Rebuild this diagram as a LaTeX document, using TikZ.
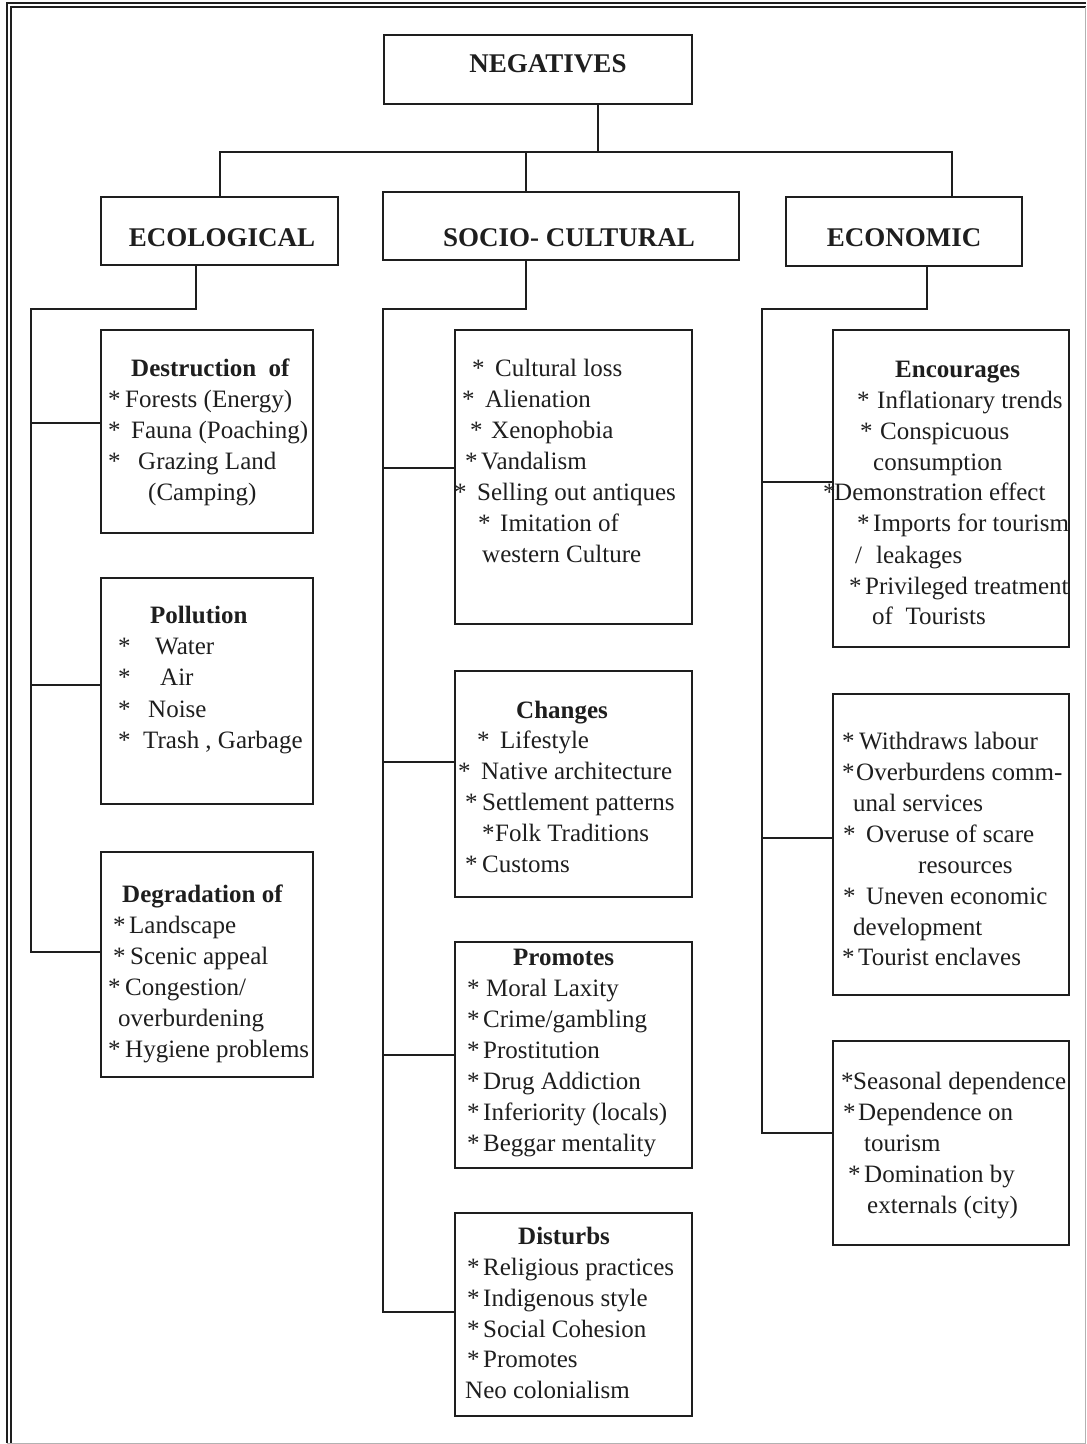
\documentclass[tikz,border=0pt]{standalone}
\usepackage{fontspec}
\setmainfont{Liberation Serif}
\definecolor{ink}{HTML}{1E1E1E}
\newcommand\mktext[4]{\node[txt] (#1) at (#2,#3) {#4};}
\newcommand\mkstar[5]{\node[txt] (#1) at (#2,#4) {\makebox[\dimexpr#3pt-#2pt\relax][l]{*}#5};}
\newcommand\mkbox[5]{\node[box, minimum width={(#4-#2)*1pt}, minimum height={(#5-#3)*1pt}] (#1) at (#2,#3) {};}
\begin{document}
\begin{tikzpicture}[x=1pt,y=-1pt,
  ln/.style={draw=ink, line width=1.5pt},
  box/.style={draw=ink, line width=1.5pt, anchor=north west, inner sep=0pt, outer sep=0pt},
  txt/.style={anchor=base west, inner sep=0pt, text=ink, font=\fontsize{25}{30}\selectfont},
  head/.style={anchor=base, inner sep=0pt, text=ink, font=\fontsize{27}{32}\selectfont\bfseries},
  sub/.style={txt, font=\fontsize{25}{30}\selectfont\bfseries}]
\useasboundingbox (0,0) rectangle (1087,1444);
% frame
\draw[ink, line width=1.3pt] (7,1443) -- (7,3) -- (1086,3);
\draw[ink, line width=1.3pt] (11,1443) -- (11,7) -- (1086,7);
\draw[gray!60, line width=1pt] (1085,7) -- (1085,1443) -- (7,1443);

% header boxes
\mkbox{neg}{384}{35}{692}{104}
\mkbox{eco}{101}{197}{338}{265}
\mkbox{soc}{383}{192}{739}{260}
\mkbox{econ}{786}{197}{1022}{266}
\node[head] (negT) at (548,72) {NEGATIVES};
\node[head] (ecoT) at (222,246) {ECOLOGICAL};
\node[head] (socT) at (569,246) {SOCIO- CULTURAL};
\node[head] (econT) at (904,246) {ECONOMIC};

% content boxes
\mkbox{des}{101}{330}{313}{533}
\mkbox{pol}{101}{578}{313}{804}
\mkbox{deg}{101}{852}{313}{1077}
\mkbox{cul}{455}{330}{692}{624}
\mkbox{chg}{455}{671}{692}{897}
\mkbox{pro}{455}{942}{692}{1168}
\mkbox{dis}{455}{1213}{692}{1416}
\mkbox{enc}{833}{330}{1069}{647}
\mkbox{wdr}{833}{694}{1069}{995}
\mkbox{sea}{833}{1041}{1069}{1245}

% top connectors
\coordinate (busL) at (220,152);
\coordinate (busR) at (952,152);
\coordinate (nx) at (598,0);
\coordinate (sx) at (526,0);
\draw[ln] (neg.south -| nx) -- (nx |- busL);
\draw[ln] (eco.north -| busL) -- (busL) -- (busR) -- (econ.north -| busR);
\draw[ln] (sx |- busL) -- (soc.north -| sx);

% ecological trunk
\coordinate (ex) at (196,0);
\coordinate (et) at (31,309);
\coordinate (eb1) at (0,423);
\coordinate (eb2) at (0,685);
\coordinate (eb3) at (0,952);
\draw[ln] (eco.south -| ex) |- (et) |- (deg.west |- eb3);
\draw[ln] (et |- eb1) -- (des.west |- eb1);
\draw[ln] (et |- eb2) -- (pol.west |- eb2);

% socio trunk
\coordinate (st) at (383,309);
\coordinate (sb1) at (0,468);
\coordinate (sb2) at (0,762);
\coordinate (sb3) at (0,1055);
\coordinate (sb4) at (0,1312);
\draw[ln] (soc.south -| sx) |- (st) |- (dis.west |- sb4);
\draw[ln] (st |- sb1) -- (cul.west |- sb1);
\draw[ln] (st |- sb2) -- (chg.west |- sb2);
\draw[ln] (st |- sb3) -- (pro.west |- sb3);

% economic trunk
\coordinate (cx) at (927,0);
\coordinate (ct) at (762,309);
\coordinate (cb1) at (0,482);
\coordinate (cb2) at (0,838);
\coordinate (cb3) at (0,1133);
\draw[ln] (econ.south -| cx) |- (ct) |- (sea.west |- cb3);
\draw[ln] (ct |- cb1) -- (enc.west |- cb1);
\draw[ln] (ct |- cb2) -- (wdr.west |- cb2);

% Destruction
\node[sub] (d0) at (131,376) {Destruction\ \ of};
\mkstar{d1}{108}{125}{407}{Forests (Energy)}
\mkstar{d2}{108}{131}{438}{Fauna (Poaching)}
\mkstar{d3}{108}{138}{469}{Grazing Land}
\mktext{d4}{148}{500}{(Camping)}

% Pollution
\node[sub] (p0) at (150,623) {Pollution};
\mkstar{p1}{118}{155}{654}{Water}
\mkstar{p2}{118}{160}{685}{Air}
\mkstar{p3}{118}{148}{717}{Noise}
\mkstar{p4}{118}{143}{748}{Trash , Garbage}

% Degradation
\node[sub] (g0) at (122,902) {Degradation of};
\mkstar{g1}{113}{129}{933}{Landscape}
\mkstar{g2}{113}{130}{964}{Scenic appeal}
\mkstar{g3}{108}{125}{995}{Congestion/}
\mktext{g4}{118}{1026}{overburdening}
\mkstar{g5}{108}{125}{1057}{Hygiene problems}

% Cultural
\mkstar{c1}{472}{495}{376}{Cultural loss}
\mkstar{c2}{462}{485}{407}{Alienation}
\mkstar{c3}{470}{491}{438}{Xenophobia}
\mkstar{c4}{465}{481}{469}{Vandalism}
\mkstar{c5}{454}{477}{500}{Selling out antiques}
\mkstar{c6}{478}{500}{531}{Imitation of}
\mktext{c7}{482}{562}{western Culture}

% Changes
\node[sub] (h0) at (516,718) {Changes};
\mkstar{h1}{477}{500}{748}{Lifestyle}
\mkstar{h2}{458}{481}{779}{Native architecture}
\mkstar{h3}{465}{482}{810}{Settlement patterns}
\mkstar{h4}{482}{495}{841}{Folk Traditions}
\mkstar{h5}{465}{482}{872}{Customs}

% Promotes
\node[sub] (m0) at (513,965) {Promotes};
\mkstar{m1}{467}{486}{996}{Moral Laxity}
\mkstar{m2}{467}{483}{1027}{Crime/gambling}
\mkstar{m3}{467}{483}{1058}{Prostitution}
\mkstar{m4}{467}{483}{1089}{Drug Addiction}
\mkstar{m5}{467}{483}{1120}{Inferiority (locals)}
\mkstar{m6}{467}{483}{1151}{Beggar mentality}

% Disturbs
\node[sub] (s0) at (518,1244) {Disturbs};
\mkstar{s1}{467}{483}{1275}{Religious practices}
\mkstar{s2}{467}{483}{1306}{Indigenous style}
\mkstar{s3}{467}{483}{1337}{Social Cohesion}
\mkstar{s4}{467}{483}{1367}{Promotes}
\mktext{s5}{465}{1398}{Neo colonialism}

% Encourages
\node[sub] (n0) at (895,377) {Encourages};
\mkstar{n1}{857}{877}{408}{Inflationary trends}
\mkstar{n2}{860}{880}{439}{Conspicuous}
\mktext{n3}{873}{470}{consumption}
\mkstar{n4}{823}{834}{500}{Demonstration effect}
\mkstar{n5}{857}{873}{531}{Imports for tourism}
\mktext{n6}{855}{563}{/\hspace{14pt}leakages}
\mkstar{n7}{849}{865}{594}{Privileged treatment}
\mktext{n8}{872}{624}{of\ \ Tourists}

% Withdraws
\mkstar{w1}{842}{859}{749}{Withdraws labour}
\mkstar{w2}{842}{856}{780}{Overburdens comm-}
\mktext{w3}{853}{811}{unal services}
\mkstar{w4}{843}{866}{842}{Overuse of scare}
\mktext{w5}{918}{873}{resources}
\mkstar{w6}{843}{866}{904}{Uneven economic}
\mktext{w7}{853}{935}{development}
\mkstar{w8}{842}{858}{965}{Tourist enclaves}

% Seasonal
\mkstar{e1}{841}{853}{1089}{Seasonal dependence}
\mkstar{e2}{843}{858}{1120}{Dependence on}
\mktext{e3}{864}{1151}{tourism}
\mkstar{e4}{848}{864}{1182}{Domination by}
\mktext{e5}{867}{1213}{externals (city)}
\end{tikzpicture}
\end{document}
